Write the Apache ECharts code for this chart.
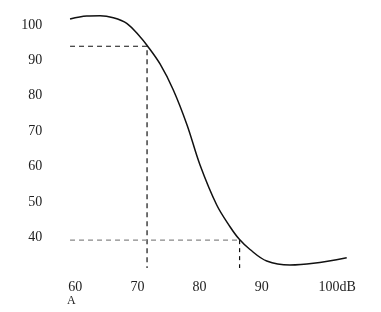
<!DOCTYPE html>
<html><head><meta charset="utf-8">
<script src="https://cdn.jsdelivr.net/npm/echarts@6/dist/echarts.min.js"></script>
<style>html,body{margin:0;padding:0;background:#fff}#c{width:381px;height:312px}</style>
</head><body><div id="c"></div>
<script>
var xTicks = [60, 70, 80, 90, 100];
var yTicks = [40, 50, 60, 70, 80, 90, 100];
var curveX = [59.15, 61.84, 63.98, 66.12, 68.28, 70.42, 71.5, 73.64, 75.78, 77.99, 80.08, 82.77, 84.91, 86.41, 88.13, 90.82, 94.56, 98.33, 103.7];
var curveY = [101.7, 102.54, 102.63, 102.06, 100.48, 96.69, 94.35, 88.98, 81.63, 71.74, 60.43, 49.12, 42.99, 39.43, 36.55, 33.3, 32.16, 32.65, 34.23];
var upperGuide = [[59.15, 94.0], [71.55, 94.0], [71.55, 31.3]];
var lowerGuideH = [[59.15, 39.2], [86.45, 39.2]];
var lowerGuideV = [[86.45, 39.2], [86.45, 31.3]];
var lastLabelUnit = 'dB';
var cornerLabel = 'A';

var curve = curveX.map(function (x, i) { return [x, curveY[i]]; });
var font = '"Liberation Serif", "DejaVu Serif", serif';
var chart = echarts.init(document.getElementById('c'), null, {renderer: 'canvas'});
chart.setOption({
  animation: false,
  backgroundColor: '#fff',
  grid: {left: 62.9, width: 298.1, top: 7.3, height: 265.4},
  xAxis: {
    type: 'value', min: 58, max: 106,
    axisLine: {show: false}, axisTick: {show: false}, splitLine: {show: false},
    axisLabel: {
      customValues: xTicks,
      margin: 8, color: '#222', fontFamily: font, fontSize: 14,
      formatter: function (v) { return v === 100 ? '{u|' + v + lastLabelUnit + '}' : String(v); },
      rich: {u: {padding: [0, 0, 0, 27], color: '#222', fontFamily: font, fontSize: 14}}
    }
  },
  yAxis: {
    type: 'value', min: 30, max: 105,
    axisLine: {show: false}, axisTick: {show: false}, splitLine: {show: false},
    axisLabel: {customValues: yTicks, margin: 20.6, color: '#222', fontFamily: font, fontSize: 14}
  },
  graphic: [{
    type: 'text', left: 67, top: 295,
    style: {text: cornerLabel, fill: '#222', font: '12px ' + font}
  }],
  series: [
    {type: 'line', data: curve, smooth: 0.35, symbol: 'none',
     lineStyle: {color: '#111', width: 1.5}, z: 5},
    {type: 'line', data: upperGuide, symbol: 'none',
     lineStyle: {color: '#111', width: 1.2, type: [5, 4]}},
    {type: 'line', data: lowerGuideH, symbol: 'none',
     lineStyle: {color: '#888', width: 1.2, type: [5, 4]}},
    {type: 'line', data: lowerGuideV, symbol: 'none',
     lineStyle: {color: '#111', width: 1.2, type: [4, 4]}}
  ]
});
</script></body></html>
